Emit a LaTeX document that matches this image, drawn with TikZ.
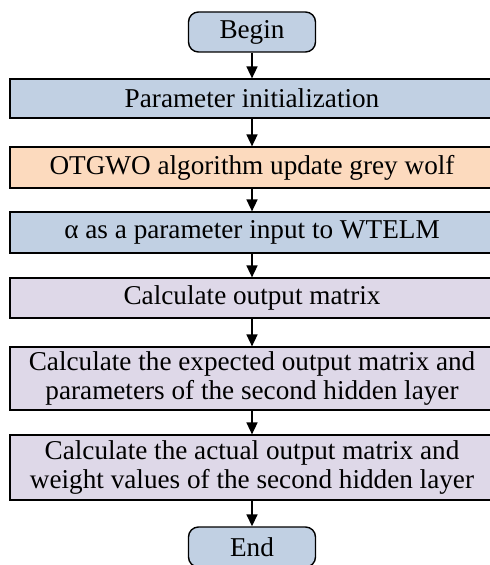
\documentclass[tikz,border=0pt]{standalone}
\usepackage{fontspec}
\setmainfont{Liberation Serif}
\usetikzlibrary{calc, arrows.meta}
\definecolor{stepblue}{RGB}{193,208,227}
\definecolor{steporange}{RGB}{252,218,190}
\definecolor{steplilac}{RGB}{222,216,232}
\tikzset{
  terminal/.style={draw, line width=0.7pt, rounded corners=5pt, fill=stepblue,
    minimum width=63.5pt, minimum height=20pt, inner sep=0pt},
  stepbox/.style={draw, line width=0.6pt, minimum width=242pt, inner sep=0pt,
    align=center},
  flow/.style={line width=0.8pt, -{Triangle[length=6pt,width=5.5pt]}}
}
\begin{document}
\begin{tikzpicture}[x=0.5pt, y=-0.5pt, font=\rmfamily\fontsize{13.6}{14.8}\selectfont]
      \useasboundingbox (0,0) rectangle (490,565);
      \node[terminal] (begin) at (252, 32) {Begin};
      \node[stepbox, fill=stepblue, minimum height=19.5pt] (init) at (252, 98.5) {Parameter initialization};
      \node[stepbox, fill=steporange, minimum height=20.5pt] (update) at (252, 167.5) {OTGWO algorithm update grey wolf};
      \node[stepbox, fill=stepblue, minimum height=20.5pt] (alpha) at (252, 232.5) {α as a parameter input to WTELM};
      \node[stepbox, fill=steplilac, minimum height=20pt] (output) at (252, 298) {Calculate output matrix};
      \node[stepbox, fill=steplilac, minimum height=31.5pt] (expected) at (252, 378.5)
          {Calculate the expected output matrix and\\parameters of the second hidden layer};
      \node[stepbox, fill=steplilac, minimum height=32.5pt] (actual) at (252, 467.5)
          {Calculate the actual output matrix and\\weight values of the second hidden layer};
      \node[terminal] (end) at (252, 547) {End};
      \foreach \a/\b in {begin/init, init/update, update/alpha, alpha/output,
                         output/expected, expected/actual, actual/end} {
          \draw[flow] (\a) -- (\b);
      }
  \end{tikzpicture}
\end{document}
